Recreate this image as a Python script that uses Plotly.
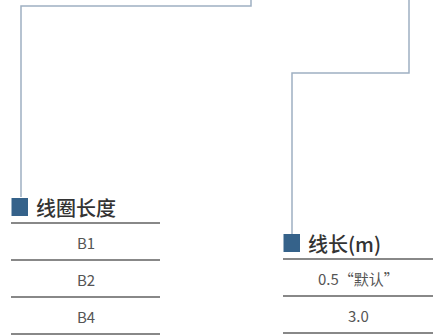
import plotly.graph_objects as go

# Data
left_title = "线圈长度"
left_rows = ["B1", "B2", "B4"]
right_title = "线长(m)"
right_rows = ["0.5“默认”", "3.0"]

W, H = 436, 335
ROW_H = 37
CJK = "Noto Sans CJK SC"
SQ = "#35628a"
CONN = "#9fb0c2"
RULE = "#606060"

fig = go.Figure()
shapes = []
annos = []


def table(x0, x1, title_y, title, rows):
    # marker square
    shapes.append(dict(type="rect", x0=x0 + 0.5, x1=x0 + 17, y0=title_y - 9, y1=title_y + 9,
                       fillcolor=SQ, line=dict(width=0)))
    annos.append(dict(x=x0 + 23, y=title_y, text=title, showarrow=False, xanchor="left",
                      yanchor="middle", font=dict(family=CJK, size=20, color="#333333", weight=500)))
    top = title_y + 16
    shapes.append(dict(type="line", x0=x0, x1=x1, y0=top, y1=top, line=dict(color=RULE, width=1.5)))
    for i, r in enumerate(rows):
        yb = top + ROW_H * (i + 1)
        shapes.append(dict(type="line", x0=x0, x1=x1, y0=yb, y1=yb, line=dict(color=RULE, width=1.5)))
        annos.append(dict(x=(x0 + x1) / 2, y=yb - ROW_H / 2 + 1, text=r, showarrow=False,
                          xanchor="center", yanchor="middle",
                          font=dict(family=CJK, size=15, color="#555555")))


table(11, 160, 207, left_title, left_rows)
table(283, 433, 243, right_title, right_rows)

# connector lines
fig.add_trace(go.Scatter(x=[251, 251, 21, 21], y=[0, 6, 6, 197], mode="lines",
                         line=dict(color=CONN, width=1.5), hoverinfo="skip", showlegend=False))
fig.add_trace(go.Scatter(x=[409, 409, 292, 292], y=[0, 73, 73, 234], mode="lines",
                         line=dict(color=CONN, width=1.5), hoverinfo="skip", showlegend=False))

fig.update_layout(
    width=W, height=H, margin=dict(l=0, r=0, t=0, b=0),
    paper_bgcolor="white", plot_bgcolor="white",
    xaxis=dict(range=[0, W], visible=False, fixedrange=True),
    yaxis=dict(range=[H, 0], visible=False, fixedrange=True),
    shapes=shapes, annotations=annos,
)

fig.write_html("out.html", config={"displayModeBar": False},
               post_script="document.body.style.margin='0';document.body.style.overflow='hidden';")
